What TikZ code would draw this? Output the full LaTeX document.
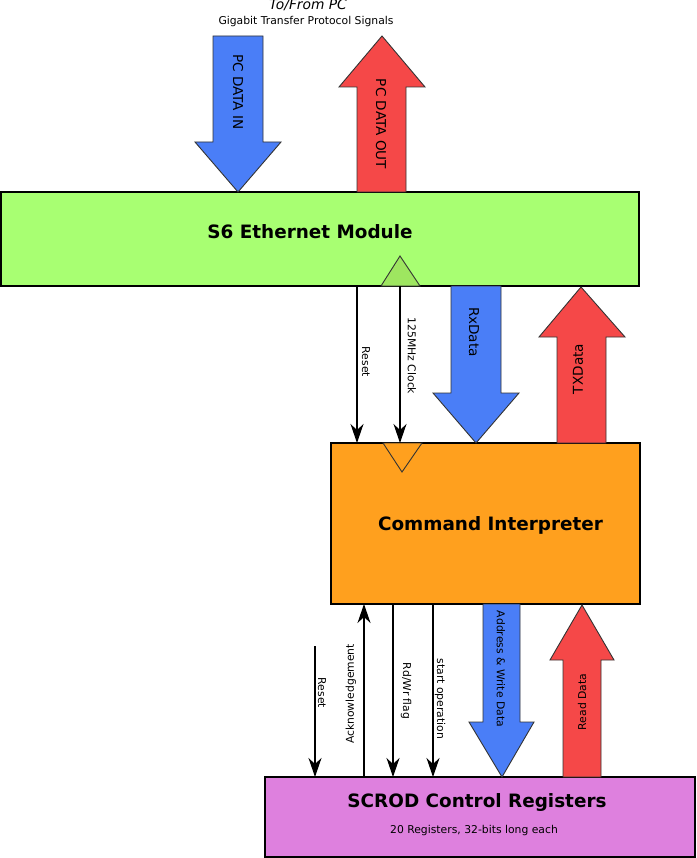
\documentclass[tikz,border=0pt]{standalone}
\usepackage{fontspec}
\setmainfont{DejaVu Sans}
\usetikzlibrary{arrows.meta}
\definecolor{ethgreen}{HTML}{A8FF72}
\definecolor{trigreen}{HTML}{9EE660}
\definecolor{cmdorange}{HTML}{FFA01E}
\definecolor{scrodviolet}{HTML}{DE80DE}
\definecolor{ablue}{HTML}{4A7EF7}
\definecolor{ared}{HTML}{F54848}
\tikzset{
  box/.style={draw=black, line width=1.4pt, inner sep=0pt, outer sep=0pt},
  blk/.style={draw=black!80, line width=0.9pt, line join=miter},
  sig/.style={draw=black, line width=1.1pt, -{Stealth[length=19pt,width=13pt,inset=6pt]}},
  ttl/.style={font=\fontsize{18.4}{21}\selectfont\bfseries},
  slab/.style={font=\fontsize{10.8}{12}\selectfont, inner sep=0pt},
  blab/.style={font=\fontsize{13.6}{15}\selectfont, inner sep=0pt},
}
\begin{document}
\begin{tikzpicture}[x=1pt,y=-1pt]
\useasboundingbox (0,0) rectangle (696,858);

% boxes
\node[box, fill=ethgreen, minimum width=638pt, minimum height=94pt] (eth) at (320,239) {};
\node[box, fill=cmdorange, minimum width=309pt, minimum height=161pt] (cmd) at (485.5,523.5) {};
\node[box, fill=scrodviolet, minimum width=430pt, minimum height=80pt] (scrod) at (480,817) {};

\node[ttl] (ethT) at (310,232) {S6 Ethernet Module};
\node[ttl] (cmdT) at (490.5,525) {Command Interpreter};
\node[ttl] (scrodT) at (477,802) {SCROD Control Registers};
\node[font=\fontsize{10.8}{12}\selectfont] (scrodS) at (474,831) {20 Registers, 32-bits long each};

% clock triangles
\filldraw[blk, fill=trigreen] (381,286) -- (400,256) -- (420,286) -- cycle;
\filldraw[blk, fill=cmdorange] (383,443) -- (402,472) -- (422,443) -- cycle;

% top header
\node[font=\fontsize{13.8}{15}\selectfont\itshape] (hdr) at (308,5) {To/From PC};
\node[font=\fontsize{10.8}{12}\selectfont] (hdr2) at (306,22) {Gigabit Transfer Protocol Signals};

% PC DATA IN (down)
\filldraw[blk, fill=ablue] (213,36) -- (263,36) -- (263,142) -- (281,142) -- (238,192) -- (195,142) -- (213,142) -- cycle;
\node[blab, rotate=-90] (pcin) at (238,92) {PC DATA IN};
% PC DATA OUT (up)
\filldraw[blk, fill=ared] (357,192) -- (406,192) -- (406,87) -- (425,87) -- (382,36) -- (339,87) -- (357,87) -- cycle;
\node[blab, rotate=-90] (pcout) at (381,124) {PC DATA OUT};

% RxData (down)
\filldraw[blk, fill=ablue] (451,286) -- (501,286) -- (501,393) -- (519,393) -- (476,443) -- (433,393) -- (451,393) -- cycle;
\node[blab, rotate=-90] (rx) at (474,332) {RxData};
% TXData (up)
\filldraw[blk, fill=ared] (557,443) -- (606,443) -- (606,337) -- (625,337) -- (581,287) -- (539,337) -- (557,337) -- cycle;
\node[blab, rotate=90] (tx) at (578,369) {TXData};

% thin signals eth -> cmd
\draw[sig] (eth.south -| 357,0) -- (cmd.north -| 357,0);
\node[slab, rotate=-90] (rst1) at (366,362) {Reset};
\draw[sig] (eth.south -| 400,0) -- (cmd.north -| 400,0);
\node[slab, rotate=-90] (clk) at (412,356) {125MHz Clock};

% bottom signals
\coordinate (rstTop) at (315,646);
\draw[sig] (rstTop) -- (scrod.north -| rstTop);
\node[slab, rotate=-90] (rst2) at (322,693) {Reset};
\draw[sig] (scrod.north -| 364,0) -- (cmd.south -| 364,0);
\node[slab, rotate=90] (ack) at (351,694) {Acknowledgement};
\draw[sig] (cmd.south -| 393,0) -- (scrod.north -| 393,0);
\node[slab, rotate=-90] (rdwr) at (406,691) {Rd/Wr flag};
\draw[sig] (cmd.south -| 433,0) -- (scrod.north -| 433,0);
\node[slab, rotate=-90] (start) at (440,699) {start operation};

% Address & Write Data (down)
\filldraw[blk, fill=ablue] (483,604) -- (520,604) -- (520,722) -- (534,722) -- (502,777) -- (469,722) -- (483,722) -- cycle;
\node[slab, rotate=-90] (addr) at (501,669) {Address \& Write Data};
% Read Data (up)
\filldraw[blk, fill=ared] (563,777) -- (601,777) -- (601,660) -- (614,660) -- (582,605) -- (550,660) -- (563,660) -- cycle;
\node[slab, rotate=90] (rd) at (582,702) {Read Data};
\end{tikzpicture}
\end{document}
